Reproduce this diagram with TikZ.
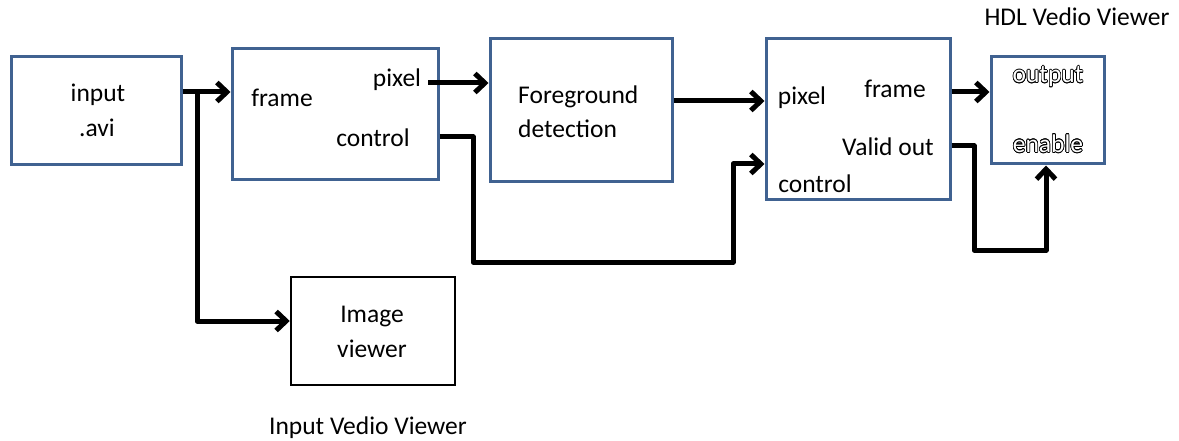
\documentclass[tikz,border=0pt]{standalone}
\usepackage{fontspec}
\setmainfont{Carlito}
\usepackage{contour}
\contourlength{0.7pt}
\usetikzlibrary{arrows.meta}
\definecolor{boxblue}{RGB}{64,98,145}
\begin{document}
\begin{tikzpicture}[x=1pt,y=-1pt,
  blk/.style={draw=boxblue,line width=3pt,rectangle,inner sep=0pt},
  blkb/.style={draw=black,line width=2.5pt,rectangle,inner sep=0pt},
  lab/.style={font=\fontsize{25.5}{28}\selectfont,inner sep=0pt,anchor=center},
  arr/.style={line width=5pt,-{Straight Barb[length=10pt,width=19pt]},line join=round},
  ln/.style={line width=5pt,line join=round}]
\useasboundingbox (0,0) rectangle (1179,441);
% blocks
\node[blk,minimum width=170,minimum height=108] (b1) at (96,111) {};
\node[blk,minimum width=206,minimum height=131] (b2) at (335,114.5) {};
\node[blk,minimum width=182,minimum height=143] (b3) at (581,110.5) {};
\node[blk,minimum width=184,minimum height=161] (b4) at (858,119.5) {};
\node[blk,minimum width=113,minimum height=107] (b5) at (1047.5,110.5) {};
\node[blkb,minimum width=164,minimum height=108] (b6) at (373,331) {};
% labels
\node[lab] (t1) at (98,95) {input};
\node[lab] (t2) at (97,128) {.avi};
\node[lab] (t3) at (282,98) {frame};
\node[lab] (t4) at (397,80) {pixel};
\node[lab] (t5) at (373,138) {control};
\node[lab,anchor=west] (t6) at (518,97) {Foreground};
\node[lab,anchor=west] (t7) at (518,129) {detection};
\node[lab] (t8) at (802,98) {pixel};
\node[lab] (t9) at (895,89) {frame};
\node[lab] (t10) at (888,147) {Valid out};
\node[lab] (t11) at (815,184) {control};
\node[lab] (t12) at (1048,77) {\contour{black}{\textcolor{white}{output}}};
\node[lab] (t13) at (1048,144) {\contour{black}{\textcolor{white}{enable}}};
\node[lab] (t14) at (1077,17) {HDL Vedio Viewer};
\node[lab] (t15) at (372,317) {Image};
\node[lab] (t16) at (372,349) {viewer};
\node[lab] (t17) at (368,428) {Input Vedio Viewer};
% waypoints
\coordinate (yIn) at (0,92);
\coordinate (sp) at (197,92);
\coordinate (spd) at (197,321);
\coordinate (yPix) at (0,83);
\coordinate (yCtl) at (0,137);
\coordinate (c1) at (473,137);
\coordinate (c2) at (473,262);
\coordinate (c3) at (733,262);
\coordinate (c4) at (733,164);
\coordinate (yFg) at (0,101);
\coordinate (yFr) at (0,92);
\coordinate (yVo) at (0,146);
\coordinate (v1) at (974,146);
\coordinate (v2) at (974,250);
\coordinate (v3) at (1046,250);
% connectors
\draw[arr] (b1.east |- yIn) -- (b2.west |- yIn);
\draw[arr] (sp) -- (spd) -- (b6.west |- spd);
\draw[arr] (t4.east |- yPix) ++(7,0) -- (b3.west |- yPix);
\draw[arr] (b2.east |- yCtl) -- (c1) -- (c2) -- (c3) -- (c4) -- (b4.west |- c4);
\draw[arr] (b3.east |- yFg) -- (b4.west |- yFg);
\draw[arr] (b4.east |- yFr) -- (b5.west |- yFr);
\draw[arr] (b4.east |- yVo) -- (v1) -- (v2) -- (v3) -- (b5.south -| v3);
\end{tikzpicture}
\end{document}
